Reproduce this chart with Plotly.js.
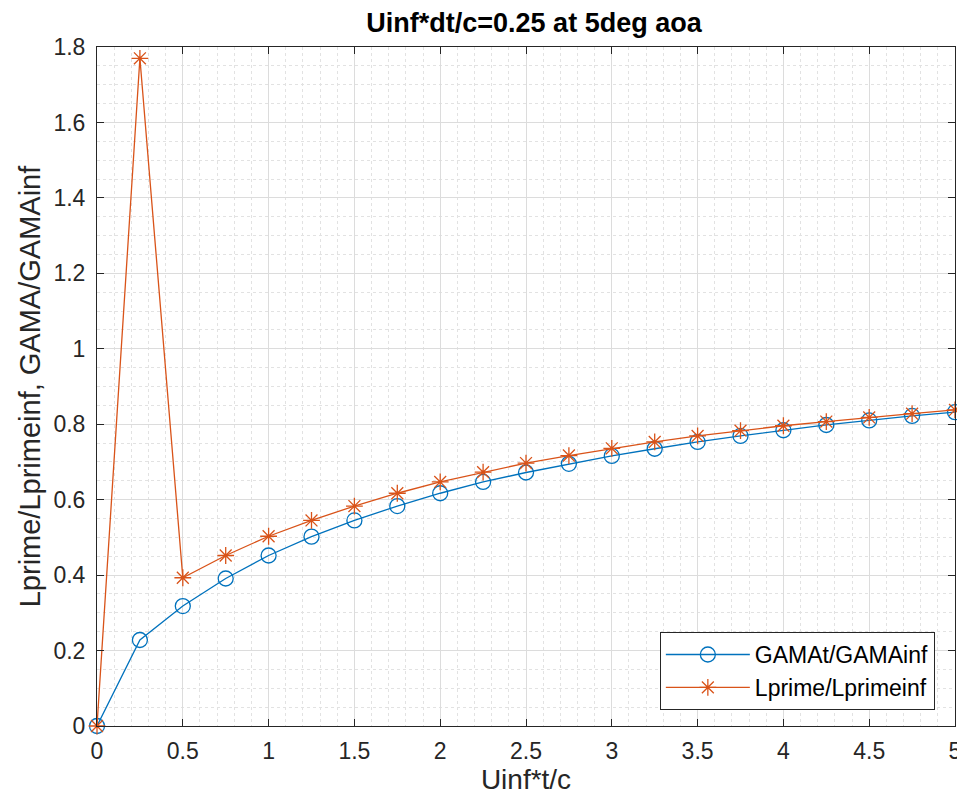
<!DOCTYPE html>
<html>
<head>
<meta charset="utf-8">
<script src="https://cdn.plot.ly/plotly-3.0.1.min.js"></script>
<style>html,body{margin:0;padding:0;background:#fff;overflow:hidden;}#chart{width:957px;height:805px;}</style>
</head>
<body>
<div id="chart"></div>
<script>
const tValues = [0,0.25,0.5,0.75,1,1.25,1.5,1.75,2,2.25,2.5,2.75,3,3.25,3.5,3.75,4,4.25,4.5,4.75,5];
const gamaRatio = [0,0.228,0.318,0.391,0.452,0.502,0.545,0.583,0.617,0.647,0.672,0.695,0.716,0.735,0.753,0.769,0.784,0.798,0.810,0.822,0.832];
const liftRatio = [0,1.770,0.393,0.452,0.503,0.545,0.583,0.617,0.647,0.673,0.697,0.717,0.736,0.753,0.769,0.783,0.796,0.807,0.818,0.828,0.838];
const seriesNames = ['GAMAt/GAMAinf','Lprime/Lprimeinf'];
const xTickVals = [0,0.5,1,1.5,2,2.5,3,3.5,4,4.5,5];
const xTickText = ['0','0.5','1','1.5','2','2.5','3','3.5','4','4.5','5'];
const yTickVals = [0,0.2,0.4,0.6,0.8,1,1.2,1.4,1.6,1.8];
const yTickText = ['0','0.2','0.4','0.6','0.8','1','1.2','1.4','1.6','1.8'];

const fontFam = 'Arial, "Liberation Sans", Helvetica, sans-serif';
const axCol = '#262626';

const traces = [
  {x: tValues, y: gamaRatio, name: seriesNames[0], type: 'scatter', mode: 'lines+markers',
   line: {color: '#0072BD', width: 1.3},
   marker: {symbol: 'circle-open', size: 15, color: '#0072BD', line: {width: 1.3, color: '#0072BD'}},
   cliponaxis: false},
  {x: tValues, y: liftRatio, name: seriesNames[1], type: 'scatter', mode: 'lines+markers',
   line: {color: '#D95319', width: 1.3},
   marker: {symbol: 'asterisk-open', size: 14, color: '#D95319', line: {width: 1.3, color: '#D95319'}},
   cliponaxis: false}
];

const layout = {
  width: 957, height: 805,
  margin: {l: 97, r: 2, t: 47, b: 79},
  paper_bgcolor: '#ffffff', plot_bgcolor: '#ffffff',
  font: {family: fontFam, color: axCol, size: 22},
  title: {text: '<b>Uinf*dt/c=0.25 at 5deg aoa</b>', x: 0.558, xanchor: 'center', y: 0.972, yanchor: 'middle',
          font: {size: 27, color: '#000000', family: fontFam}},
  showlegend: true,
  legend: {x: 0.656, y: 0.1384, xanchor: 'left', yanchor: 'top',
           bgcolor: '#ffffff', bordercolor: axCol, borderwidth: 1,
           font: {size: 23, color: '#000000', family: fontFam},
           tracegroupgap: 0, itemwidth: 84},
  xaxis: {
    range: [0, 5], tickvals: xTickVals, ticktext: xTickText,
    ticks: 'inside', ticklen: 7, tickwidth: 1, tickcolor: axCol,
    showline: true, linecolor: axCol, linewidth: 1, mirror: 'ticks',
    showgrid: true, gridcolor: '#dcdcdc', gridwidth: 1,
    zeroline: false, ticklabeloverflow: 'allow', ticklabelstandoff: 4,
    tickfont: {size: 23, color: axCol, family: fontFam},
    minor: {dtick: 0.1, showgrid: true, gridcolor: '#e2e2e2', griddash: 'dot', gridwidth: 1, ticks: ''},
    title: {text: 'Uinf*t/c', font: {size: 28, color: axCol, family: fontFam}, standoff: 6}
  },
  yaxis: {
    range: [0, 1.8], tickvals: yTickVals, ticktext: yTickText,
    ticks: 'inside', ticklen: 7, tickwidth: 1, tickcolor: axCol,
    showline: true, linecolor: axCol, linewidth: 1, mirror: 'ticks',
    showgrid: true, gridcolor: '#dcdcdc', gridwidth: 1,
    zeroline: false, ticklabelstandoff: 6,
    tickfont: {size: 23, color: axCol, family: fontFam},
    minor: {dtick: 0.05, showgrid: true, gridcolor: '#e2e2e2', griddash: 'dot', gridwidth: 1, ticks: ''},
    title: {text: 'Lprime/Lprimeinf, GAMA/GAMAinf', font: {size: 29, color: axCol, family: fontFam}, standoff: 4}
  }
};

Plotly.newPlot('chart', traces, layout, {displayModeBar: false, staticPlot: true});
</script>
</body>
</html>
